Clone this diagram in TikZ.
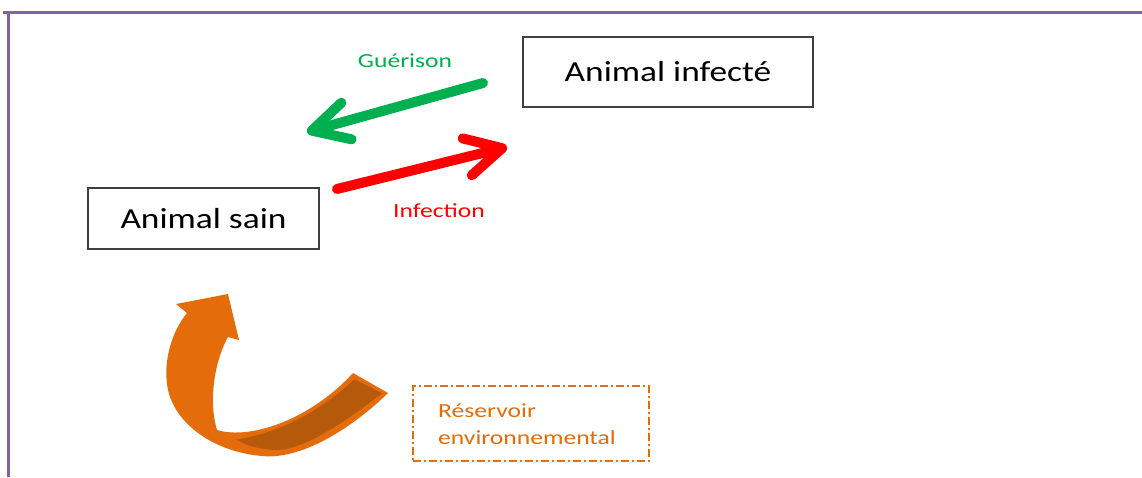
\documentclass[tikz,border=0pt]{standalone}
\usepackage{fontspec}
\setmainfont{Carlito}
\usetikzlibrary{arrows.meta}
\definecolor{framepurple}{HTML}{8064A2}
\definecolor{boxgray}{HTML}{3F3F3F}
\definecolor{okgreen}{HTML}{00B050}
\definecolor{badred}{HTML}{FF0000}
\definecolor{resorange}{HTML}{E46C0A}
\definecolor{darkorange}{HTML}{B55A0A}
\newcommand{\widebig}[1]{\scalebox{1.22}[1]{#1}}
\newcommand{\widesmall}[1]{\scalebox{1.28}[1]{#1}}
\tikzset{
  statebox/.style={draw=boxgray, line width=2.2pt, fill=white, inner sep=0pt, text=black, font=\fontsize{29}{35}\selectfont},
  flowlabel/.style={font=\fontsize{20}{24}\selectfont, inner sep=0pt},
  flowarrow/.style={line width=10pt, line cap=round, -{Straight Barb[length=36pt,width=38pt,round]}},
}
\begin{document}
\begin{tikzpicture}[x=1pt,y=-1pt]
\useasboundingbox (0,0) rectangle (1142,477);
\fill[white] (0,0) rectangle (1142,477);
% frame
\draw[framepurple, line width=3pt] (3,12) -- (1142,12);
\draw[framepurple, line width=3pt] (8,12) -- (8,477);
% state boxes
\node[statebox, minimum width=290pt, minimum height=70pt] (inf) at (668,72) {\widebig{Animal infecté}};
\node[statebox, minimum width=231pt, minimum height=61pt] (sain) at (203.5,218.5) {\widebig{Animal sain}};
% arrows
\coordinate (gS) at (483,83);
\coordinate (gE) at (307,132);
\coordinate (rS) at (337,189);
\coordinate (rE) at (507,147);
\draw[flowarrow, okgreen] (gS) -- (gE);
\draw[flowarrow, badred] (rS) -- (rE);
\node[flowlabel, text=okgreen] (gl) at (405,61) {\widesmall{Guérison}};
\node[flowlabel, text=badred] (rl) at (439,211) {\widesmall{Infection}};
% curved orange arrow
\fill[resorange] (388,393) .. controls (350,430) and (300,460) .. (262,456)
  .. controls (215,452) and (176,425) .. (168,390)
  .. controls (162,360) and (173,330) .. (187,313)
  -- (176,304) -- (228,294) -- (239,340) -- (228,337)
  .. controls (215,360) and (208,400) .. (217,430)
  .. controls (250,440) and (310,420) .. (353,373) -- cycle;
\filldraw[fill=darkorange, draw=resorange, line width=2pt] (384,393)
  .. controls (340,428) and (300,452) .. (275,451)
  .. controls (255,450) and (242,445) .. (233,439)
  .. controls (280,432) and (320,410) .. (354,378) -- cycle;
% reservoir box
\node[draw=resorange, line width=2pt, dash pattern=on 8pt off 3pt on 2pt off 3pt,
  minimum width=236pt, minimum height=75pt, inner sep=0pt] (res) at (531,423.5) {};
\node[flowlabel, text=resorange, anchor=base west] (rtxt1) at (438,417) {\widesmall{Réservoir}};
\node[flowlabel, text=resorange, anchor=base west] (rtxt2) at (438,444) {\widesmall{environnemental}};
\end{tikzpicture}
\end{document}
